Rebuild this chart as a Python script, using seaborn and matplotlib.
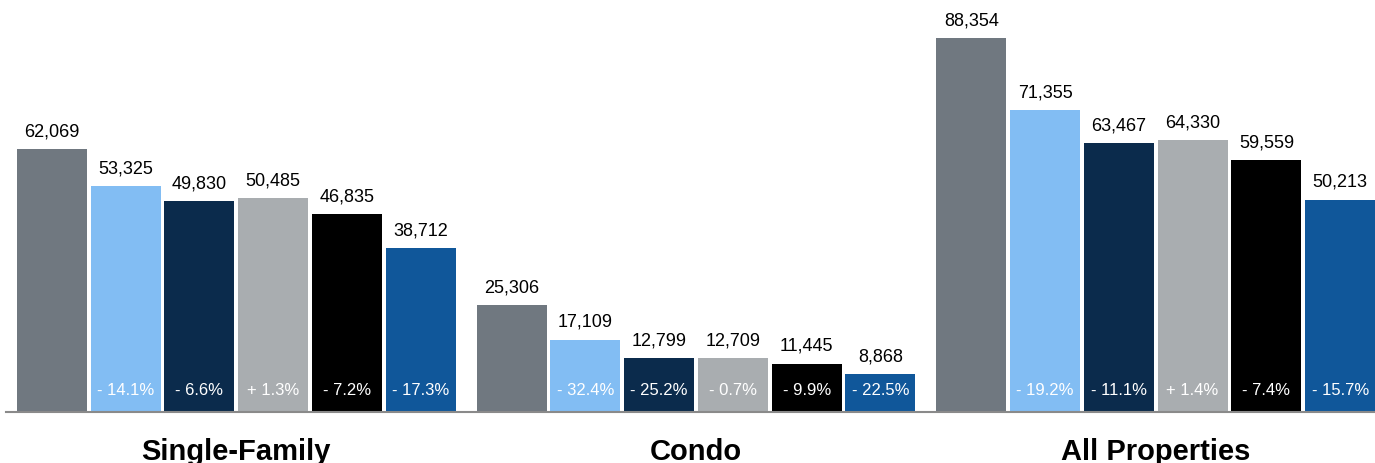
import matplotlib
matplotlib.use("Agg")
import matplotlib.pyplot as plt
import seaborn as sns
import pandas as pd

categories = ["Single-Family", "Condo", "All Properties"]
series = ["P1", "P2", "P3", "P4", "P5", "P6"]
values = {
    "P1": [62069, 25306, 88354],
    "P2": [53325, 17109, 71355],
    "P3": [49830, 12799, 63467],
    "P4": [50485, 12709, 64330],
    "P5": [46835, 11445, 59559],
    "P6": [38712, 8868, 50213],
}
changes = {
    "P1": ["", "", ""],
    "P2": ["- 14.1%", "- 32.4%", "- 19.2%"],
    "P3": ["- 6.6%", "- 25.2%", "- 11.1%"],
    "P4": ["+ 1.3%", "- 0.7%", "+ 1.4%"],
    "P5": ["- 7.2%", "- 9.9%", "- 7.4%"],
    "P6": ["- 17.3%", "- 22.5%", "- 15.7%"],
}
colors = ["#707880", "#82bdf3", "#0b2b4c", "#a9adb0", "#000000", "#10579a"]

rows = []
for s in series:
    for c, v in zip(categories, values[s]):
        rows.append({"category": c, "series": s, "value": v})
df = pd.DataFrame(rows)

sns.set_theme(style="white")
plt.rcParams["font.family"] = ["Liberation Sans", "DejaVu Sans"]

fig = plt.figure(figsize=(13.75, 4.64), dpi=100)
ax = fig.add_axes([6 / 1375, 51 / 464, 1369 / 1375, 413 / 464])

sns.barplot(data=df, x="category", y="value", hue="series", order=categories,
            hue_order=series, palette=colors, width=0.963, gap=0.052,
            saturation=1, linewidth=0, legend=False, ax=ax)

for s, cont in zip(series, ax.containers):
    ax.bar_label(cont, labels=[f"{v:,}" for v in values[s]], padding=7,
                 fontsize=13, color="black")
    for bar, txt in zip(cont, changes[s]):
        if txt:
            ax.annotate(txt, (bar.get_x() + bar.get_width() / 2, 0),
                        xytext=(0, 22), textcoords="offset pixels",
                        ha="center", va="center", color="white", fontsize=12)

ax.set_ylim(0, 97600)
ax.set_xlim(-0.501, 2.477)
ax.set_xlabel("")
ax.set_ylabel("")
ax.set_yticks([])
for sp in ["top", "right", "left"]:
    ax.spines[sp].set_visible(False)
ax.spines["bottom"].set_color("#8a8a8a")
ax.spines["bottom"].set_linewidth(1.5)
ax.tick_params(axis="x", length=0, pad=18)
for lbl in ax.get_xticklabels():
    lbl.set_fontsize(21)
    lbl.set_fontweight("bold")
    lbl.set_color("black")

fig.savefig("out.png", dpi=100)
